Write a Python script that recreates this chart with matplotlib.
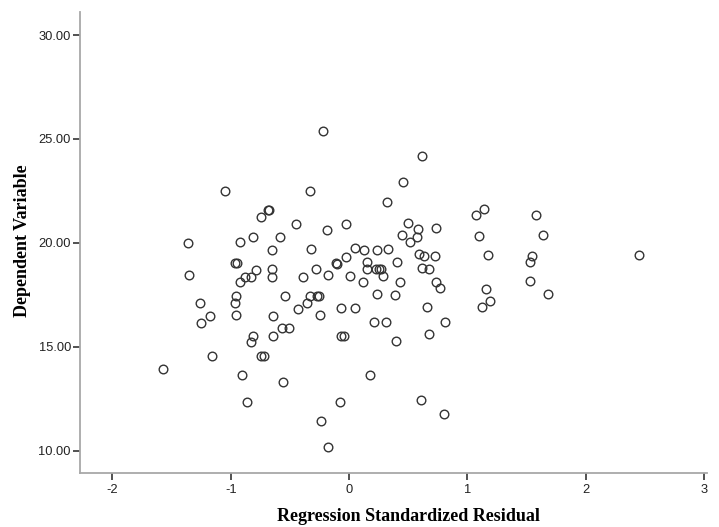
import matplotlib
matplotlib.use("Agg")
import matplotlib.pyplot as plt
from matplotlib.ticker import FormatStrFormatter

plt.rcParams["axes.unicode_minus"] = False

# Standardized residuals (x) and dependent variable values (y)
residual = [
    -1.048, -0.327, -0.687, -0.680, -0.746, -0.451, -0.186, -1.364, -0.924, -0.814,
    -0.586, -0.653, -0.324, -0.110, -0.964, -0.944, -1.350, -0.789, -0.879, -0.828,
    -0.648, -0.648, -0.391, -0.178, -0.276, -0.924, -1.260, -0.953, -0.964, -0.541,
    -0.327, -0.270, -0.254, -1.175, -1.251, -0.955, -0.640, -0.429, -0.358, -0.248,
    -0.808, -0.831, -0.640, -0.564, -0.507, -1.161, -0.746, -0.718, -1.570, -0.907,
    -0.561, -0.860, -0.076, -0.239, -0.180, -0.222, 0.614, 0.454, 0.319, 1.071,
    1.139, 1.099, 1.178, -0.023, 0.502, 0.583, 0.575, 0.733, 0.445, 0.518,
    0.054, 0.130, 0.234, 0.330, -0.023, -0.104, 0.152, 0.150, 0.228, 0.251,
    0.273, 0.290, 0.403, 0.589, 0.631, 0.727, 0.614, 0.679, 0.733, 0.769,
    0.011, 0.116, 0.434, 0.234, 0.391, 1.158, 1.192, 1.124, 0.657, -0.065,
    0.054, 0.812, 0.209, 0.310, -0.065, -0.040, 0.400, 0.679, 0.178, 0.609,
    0.803, 1.581, 1.637, 1.547, 1.527, 2.449, 1.527, 1.679,
]
dependent = [
    22.51, 22.51, 21.56, 21.58, 21.23, 20.92, 20.60, 19.98, 20.02, 20.28,
    20.28, 19.65, 19.70, 19.01, 19.01, 19.01, 18.44, 18.71, 18.37, 18.37,
    18.72, 18.37, 18.37, 18.44, 18.74, 18.10, 17.10, 17.45, 17.12, 17.44,
    17.44, 17.44, 17.44, 16.49, 16.15, 16.53, 16.48, 16.80, 17.09, 16.53,
    15.53, 15.21, 15.53, 15.89, 15.89, 14.57, 14.57, 14.57, 13.94, 13.62,
    13.32, 12.35, 12.35, 11.44, 10.19, 25.39, 24.18, 22.91, 21.96, 21.32,
    21.64, 20.33, 19.41, 20.92, 20.97, 20.66, 20.29, 20.70, 20.38, 20.02,
    19.75, 19.65, 19.65, 19.70, 19.33, 18.99, 19.08, 18.75, 18.72, 18.72,
    18.72, 18.42, 19.07, 19.45, 19.38, 19.38, 18.80, 18.74, 18.13, 17.84,
    18.39, 18.11, 18.11, 17.55, 17.47, 17.78, 17.19, 16.93, 16.93, 16.88,
    16.88, 16.20, 16.20, 16.20, 15.53, 15.53, 15.26, 15.63, 13.62, 12.42,
    11.78, 21.32, 20.38, 19.38, 19.09, 19.43, 18.16, 17.52,
]
x_ticks = [-2, -1, 0, 1, 2, 3]
y_ticks = [10, 15, 20, 25, 30]

fig = plt.figure(figsize=(7.19, 5.27), dpi=100)
ax = fig.add_axes([80 / 719, 1 - 472.7 / 527, 627.4 / 719, 460.7 / 527])

ax.plot(residual, dependent, linestyle="none", marker="o", markersize=6.2,
        markerfacecolor="none", markeredgecolor="#333333", markeredgewidth=1.0)

ax.set_xlim(-2.274, 3.03)
ax.set_ylim(8.937, 31.107)
ax.set_xticks(x_ticks)
ax.set_yticks(y_ticks)
ax.yaxis.set_major_formatter(FormatStrFormatter("%.2f"))

for side in ("top", "right"):
    ax.spines[side].set_visible(False)
for side in ("left", "bottom"):
    ax.spines[side].set_color("#a8a8a8")
    ax.spines[side].set_linewidth(1.3)

ax.tick_params(axis="both", direction="out", length=5, width=1.2,
               color="#333333", labelsize=9.3, labelcolor="#222222",
               labelfontfamily="Liberation Sans")
ax.tick_params(axis="x", pad=3)
ax.tick_params(axis="y", pad=1.5)

label_font = dict(family="Liberation Serif", weight="bold", size=13)
ax.set_xlabel("Regression Standardized Residual", **label_font)
ax.set_ylabel("Dependent Variable", **label_font)
ax.xaxis.set_label_coords(0.524, -0.096)
ax.xaxis.label.set_verticalalignment("center")
ax.yaxis.set_label_coords(-0.0924, 0.503)
ax.yaxis.label.set_verticalalignment("center")

fig.savefig("out.png", dpi=100)
